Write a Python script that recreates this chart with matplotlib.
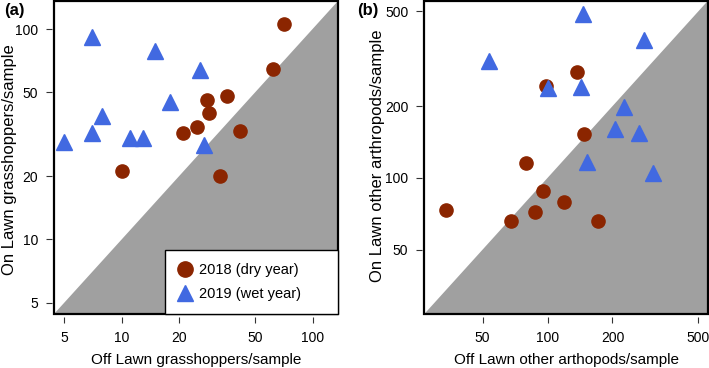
import numpy as np
import matplotlib
matplotlib.use("Agg")
import matplotlib.pyplot as plt
from matplotlib.lines import Line2D
from matplotlib.patches import Rectangle

# (a) grasshoppers/sample
gh_off_2018 = [70.6, 61.8, 35.7, 27.9, 28.8, 24.9, 20.9, 41.8, 32.8, 10.0]
gh_on_2018 = [106, 64.9, 48.0, 46.1, 39.9, 34.1, 32.1, 32.9, 20.1, 21.1]
gh_off_2019 = [7.0, 14.9, 25.8, 17.9, 7.9, 7.0, 5.0, 11.0, 12.9, 27.0]
gh_on_2019 = [91.5, 78.5, 64.0, 45.0, 38.5, 32.0, 29.2, 30.2, 30.2, 28.0]

# (b) other arthropods/sample
ar_off_2018 = [33.9, 67.7, 87.2, 95.7, 119.3, 171, 79.2, 147.7, 98.1, 136.6]
ar_on_2018 = [73.1, 66.1, 72.1, 88.3, 79.2, 66.1, 115.3, 152.4, 244, 278.9]
ar_off_2019 = [146.3, 278.8, 53.7, 100.1, 142.6, 226.6, 205, 266, 152.5, 307]
ar_on_2019 = [490, 378, 310, 239, 241, 198, 160, 154, 116, 105]

gh_ticks = [5, 10, 20, 50, 100]
ar_ticks = [50, 100, 200, 500]

red = "#8B2500"
blue = "#4169E1"
shade = "#A0A0A0"

plt.rcParams["font.family"] = "Liberation Sans"
plt.rcParams["font.size"] = 10

fig = plt.figure(figsize=(7.09, 3.68), dpi=100)
H = 368.0
W = 709.0
ax1 = fig.add_axes([54 / W, 1 - 314 / H, 284 / W, 313 / H])
ax2 = fig.add_axes([424.3 / W, 1 - 314 / H, 283.4 / W, 313 / H])


def panel(ax, lims, ticks, off18, on18, off19, on19, xlabel, ylabel, tag,
          ylab_xy, tag_x):
    lo, hi = lims
    ax.set_xscale("log")
    ax.set_yscale("log")
    ax.set_xlim(lo, hi)
    ax.set_ylim(lo, hi)
    ax.fill([lo, hi, hi], [lo, hi, lo], color=shade, zorder=1, lw=0)
    ax.plot(off18, on18, "o", color=red, markersize=9.5, mec=red, zorder=3)
    ax.plot(off19, on19, "^", color=blue, markersize=11, mec=blue, zorder=3)
    ax.set_xticks(ticks)
    ax.set_yticks(ticks)
    ax.set_xticklabels([str(t) for t in ticks])
    ax.set_yticklabels([str(t) for t in ticks])
    ax.minorticks_off()
    for s in ax.spines.values():
        s.set_color("none")
    ax.spines["bottom"].set_position(("outward", 2.5))
    ax.spines["left"].set_position(("outward", 1.5))
    ax.tick_params(direction="out", length=4, width=0.8, color="#333333",
                   labelsize=10, pad=6)
    ax.add_patch(Rectangle((0, 0), 1, 1, transform=ax.transAxes, fill=False,
                           ec="black", lw=1.6, clip_on=False, zorder=5))
    ax.set_xlabel(xlabel, fontsize=11, va="center")
    ax.set_ylabel(ylabel, fontsize=12, va="center")
    ax.xaxis.set_label_coords(0.5, -0.147)
    ax.yaxis.set_label_coords(*ylab_xy)
    ax.text(tag_x, 0.995, tag, transform=ax.transAxes, fontsize=12,
            fontweight="bold", va="top", ha="left")


panel(ax1, (4.42, 136), gh_ticks, gh_off_2018, gh_on_2018, gh_off_2019,
      gh_on_2019, "Off Lawn grasshoppers/sample",
      "On Lawn grasshoppers/sample", "(a)", (-0.158, 0.492), -0.176)
panel(ax2, (26.8, 553), ar_ticks, ar_off_2018, ar_on_2018, ar_off_2019,
      ar_on_2019, "Off Lawn other arthopods/sample",
      "On Lawn other arthropods/sample", "(b)", (-0.164, 0.505), -0.2375)

handles = [
    Line2D([], [], ls="none", marker="o", color=red, markersize=11),
    Line2D([], [], ls="none", marker="^", color=blue, markersize=12),
]
leg = ax1.legend(handles, ["2018 (dry year)", "2019 (wet year)"],
                 loc="lower left", bbox_to_anchor=(0.391, 0, 0.609, 0.214),
                 mode="expand", borderaxespad=0, fontsize=10.5,
                 frameon=True, fancybox=False, edgecolor="black",
                 framealpha=1, borderpad=0.9, labelspacing=0.7,
                 handletextpad=0.5, handlelength=0.9)
leg.get_frame().set_linewidth(1.0)
leg.set_zorder(6)

fig.savefig("out.png", dpi=100)
